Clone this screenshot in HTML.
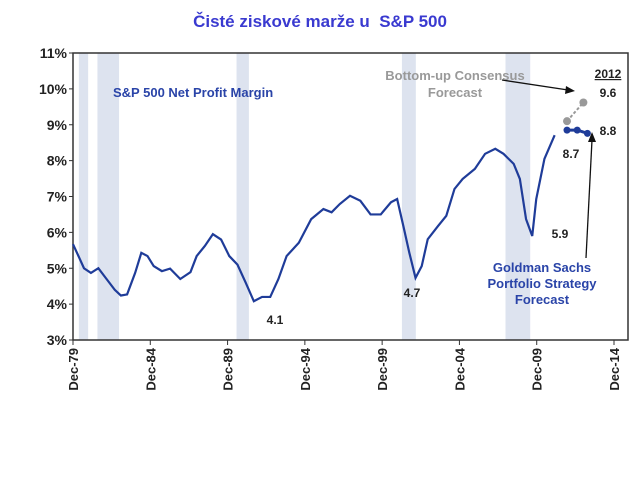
<!DOCTYPE html>
<html><head><meta charset="utf-8">
<style>
body{margin:0;width:640px;height:492px;background:#fff;overflow:hidden;font-family:"Liberation Sans",sans-serif;}
#title{position:absolute;left:0;top:12px;width:640px;text-align:center;color:#3a3ad0;font-weight:bold;font-size:17px;}
</style></head><body>
<div id="title">Čisté ziskové marže u&nbsp; S&amp;P 500</div>
<svg id="chart" width="640" height="492" style="position:absolute;left:0;top:0"></svg>
<script>
const years=[1979.92,1980.37,1980.63,1981.08,1981.56,1982.09,1982.62,1983.02,1983.42,1983.94,1984.34,1984.74,1985.14,1985.67,1986.2,1986.86,1987.52,1987.92,1988.45,1988.97,1989.5,1990.03,1990.56,1991.09,1991.62,1992.15,1992.68,1993.21,1993.74,1994.53,1995.33,1996.12,1996.65,1997.18,1997.84,1998.51,1999.17,1999.83,2000.49,2000.89,2001.29,2001.68,2002.08,2002.48,2002.87,2003.54,2004.07,2004.6,2005.13,2005.92,2006.58,2007.24,2007.77,2008.43,2008.83,2009.23,2009.63,2009.89,2010.42,2011.08];
const margins=[5.67,5.25,5.0,4.87,5.0,4.7,4.4,4.24,4.27,4.87,5.43,5.34,5.06,4.92,4.99,4.7,4.89,5.34,5.62,5.95,5.8,5.34,5.1,4.6,4.08,4.2,4.2,4.7,5.34,5.71,6.37,6.65,6.56,6.79,7.02,6.88,6.5,6.5,6.84,6.93,6.18,5.43,4.73,5.06,5.81,6.18,6.46,7.21,7.49,7.77,8.19,8.33,8.19,7.91,7.49,6.37,5.9,6.93,8.05,8.71];
const gsYears=[2011.88,2012.54,2013.2];
const gsValues=[8.85,8.85,8.76];
const consYears=[2011.88,2012.94];
const consValues=[9.1,9.62];
const recessions=[[1980.3,1980.9],[1981.5,1982.9],[1990.5,1991.3],[2001.2,2002.1],[2007.9,2009.5]];
const yTicks=[3,4,5,6,7,8,9,10,11];
const xTickYears=[1979.92,1984.92,1989.92,1994.92,1999.92,2004.92,2009.92,2014.92];
const xTickLabels=["Dec-79","Dec-84","Dec-89","Dec-94","Dec-99","Dec-04","Dec-09","Dec-14"];

const svg=document.getElementById('chart');const NS='http://www.w3.org/2000/svg';
const L=73,R=628,T=53,B=340;
const X=t=>L+(t-1979.92)*(614-73)/35;
const Y=v=>B-(v-3)*(B-T)/8;
function mk(tag,attrs,parent){const e=document.createElementNS(NS,tag);for(const k in attrs)e.setAttribute(k,attrs[k]);(parent||svg).appendChild(e);return e;}
recessions.forEach(r=>{const e=mk('rect',{x:X(r[0]),y:T,width:X(r[1])-X(r[0]),height:B-T,fill:'#dde3ef'});

});
let f=mk('rect',{x:L,y:T,width:R-L,height:B-T,fill:'none',stroke:'#333','stroke-width':1.5});


yTicks.forEach(v=>{mk('line',{x1:L-4,x2:L,y1:Y(v),y2:Y(v),stroke:'#333'});
const t=mk('text',{x:L-6,y:Y(v)+5,'text-anchor':'end','font-size':14,'font-weight':'bold',fill:'#222'});t.textContent=v+'%';

});
xTickYears.forEach((yr,i)=>{const x=X(yr);mk('line',{x1:x,x2:x,y1:B,y2:B+5,stroke:'#333'});
const t=mk('text',{x:0,y:0,transform:`translate(${x+5},${B+8}) rotate(-90)`,'text-anchor':'end','font-size':13,'font-weight':'bold',fill:'#222'});t.textContent=xTickLabels[i];

});
const line=mk('polyline',{points:years.map((t,i)=>X(t)+','+Y(margins[i])).join(' '),fill:'none',stroke:'#1f3c99','stroke-width':2.2});


const cl=mk('polyline',{points:consYears.map((t,i)=>X(t)+','+Y(consValues[i])).join(' '),fill:'none',stroke:'#999','stroke-width':2,'stroke-dasharray':'3,2'});


consYears.forEach((t,i)=>{const c=mk('circle',{cx:X(t),cy:Y(consValues[i]),r:4,fill:'#999'});

});
const gl=mk('polyline',{points:gsYears.map((t,i)=>X(t)+','+Y(gsValues[i])).join(' '),fill:'none',stroke:'#1f3c99','stroke-width':3});


gsYears.forEach((t,i)=>{const c=mk('circle',{cx:X(t),cy:Y(gsValues[i]),r:3.5,fill:'#1f3c99'});

});
mk('line',{x1:502,y1:80,x2:568,y2:90,stroke:'#111','stroke-width':1.3});
mk('polygon',{points:'575,91 566,86 565,94',fill:'#111'});
mk('line',{x1:586,y1:258,x2:592,y2:140,stroke:'#111','stroke-width':1.3});
mk('polygon',{points:'592,132 588,142 596,142',fill:'#111'});
const labels=[
 [113,97,'S&P 500 Net Profit  Margin','#2a44a8',13,'start','series-label'],
 [455,80,'Bottom-up Consensus','#999',13,'middle','consensus-label'],
 [455,97,'Forecast','#999',13,'middle','consensus-label'],
 [608,78,'2012','#222',12,'middle','year-2012-label'],
 [608,97,'9.6','#222',12,'middle','value-9-6'],
 [608,135,'8.8','#222',12,'middle','value-8-8'],
 [571,158,'8.7','#222',12,'middle','value-8-7'],
 [560,238,'5.9','#222',12,'middle','value-5-9'],
 [412,297,'4.7','#222',12,'middle','value-4-7'],
 [275,324,'4.1','#222',12,'middle','value-4-1'],
 [542,272,'Goldman Sachs','#2a44a8',13,'middle','goldman-label'],
 [542,288,'Portfolio Strategy','#2a44a8',13,'middle','goldman-label'],
 [542,304,'Forecast','#2a44a8',13,'middle','goldman-label']];
labels.forEach(l=>{const t=mk('text',{x:l[0],y:l[1],fill:l[3],'font-size':l[4],'font-weight':'bold','text-anchor':l[5]});t.textContent=l[2];
if(l[6]==='year-2012-label')t.setAttribute('text-decoration','underline');

});
</script>
</body></html>
